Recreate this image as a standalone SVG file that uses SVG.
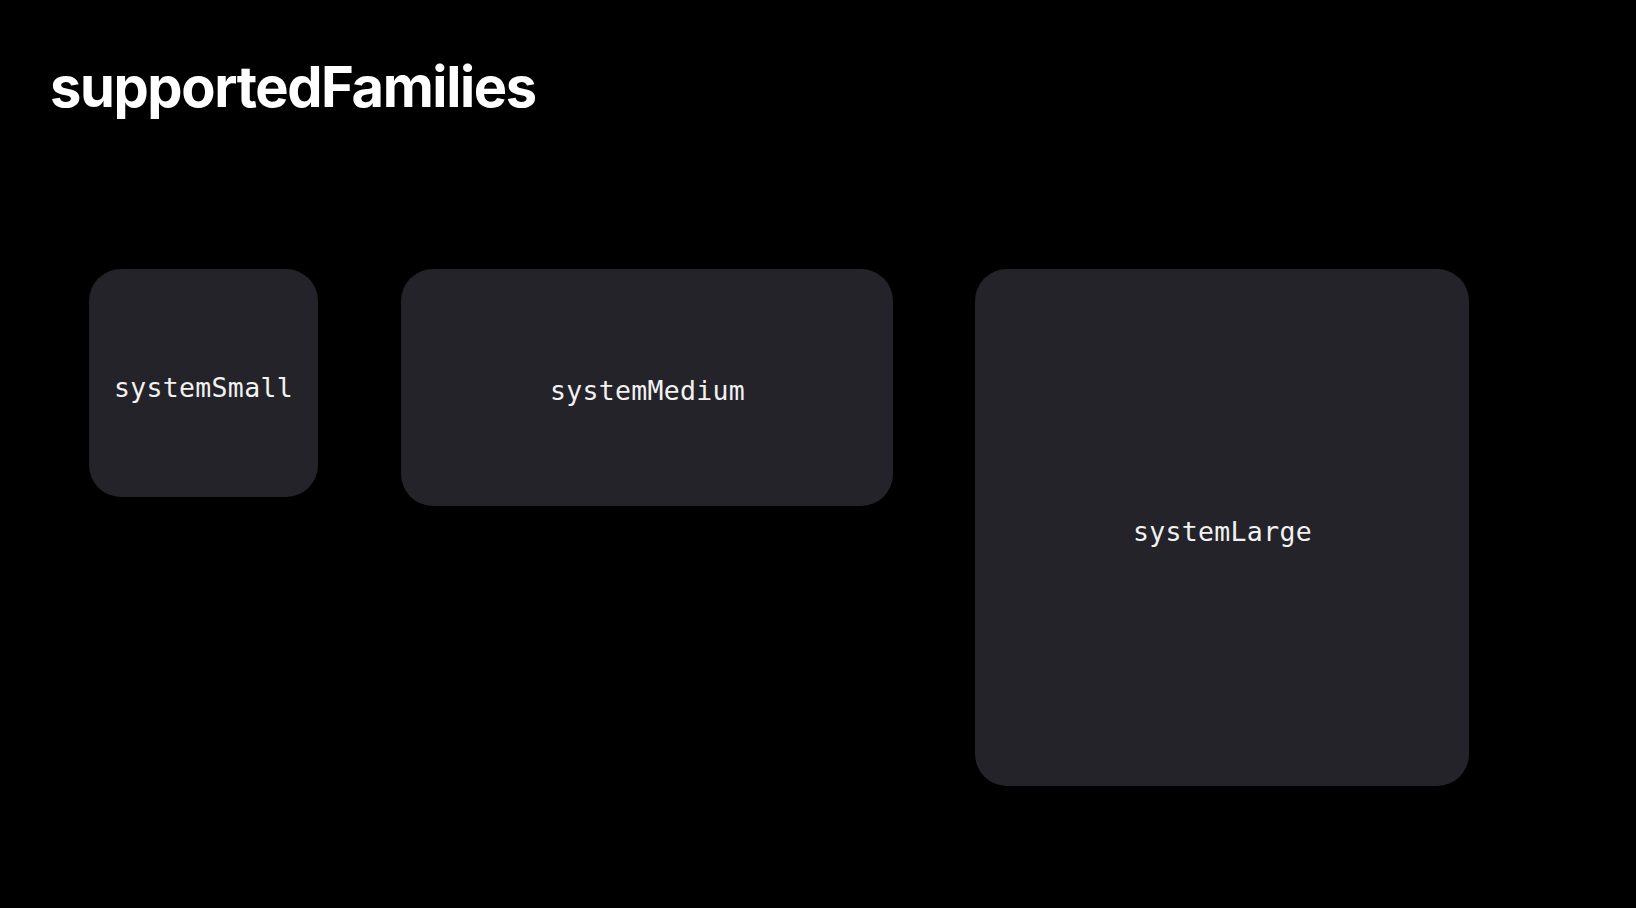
<svg xmlns="http://www.w3.org/2000/svg" width="1636" height="908" viewBox="0 0 1636 908">
  <style>
    .bg { fill: #000000; }
    .card { fill: #242329; }
    .title { font-family: Inter, "Liberation Sans", "DejaVu Sans", sans-serif; font-weight: 700; font-size: 56px; fill: #ffffff; }
    .label { font-family: "DejaVu Sans Mono", "Liberation Mono", monospace; font-size: 26.5px; letter-spacing: 0.3px; fill: #f2f2f2; text-anchor: middle; }
  </style>
  <rect class="bg" x="0" y="0" width="1636" height="908"/>
  <g id="title">
    <text class="title" x="50" y="107" textLength="487">supportedFamilies</text>
  </g>
  <g id="systemSmall">
    <rect class="card" x="89" y="269" width="229" height="228" rx="32" ry="32"/>
    <text class="label" x="203.5" y="397">systemSmall</text>
  </g>
  <g id="systemMedium">
    <rect class="card" x="401" y="269" width="492" height="237" rx="32" ry="32"/>
    <text class="label" x="647.5" y="399.5">systemMedium</text>
  </g>
  <g id="systemLarge">
    <rect class="card" x="975" y="269" width="494" height="517" rx="32" ry="32"/>
    <text class="label" x="1222.5" y="541">systemLarge</text>
  </g>
  <g id="connectors"></g>
</svg>
